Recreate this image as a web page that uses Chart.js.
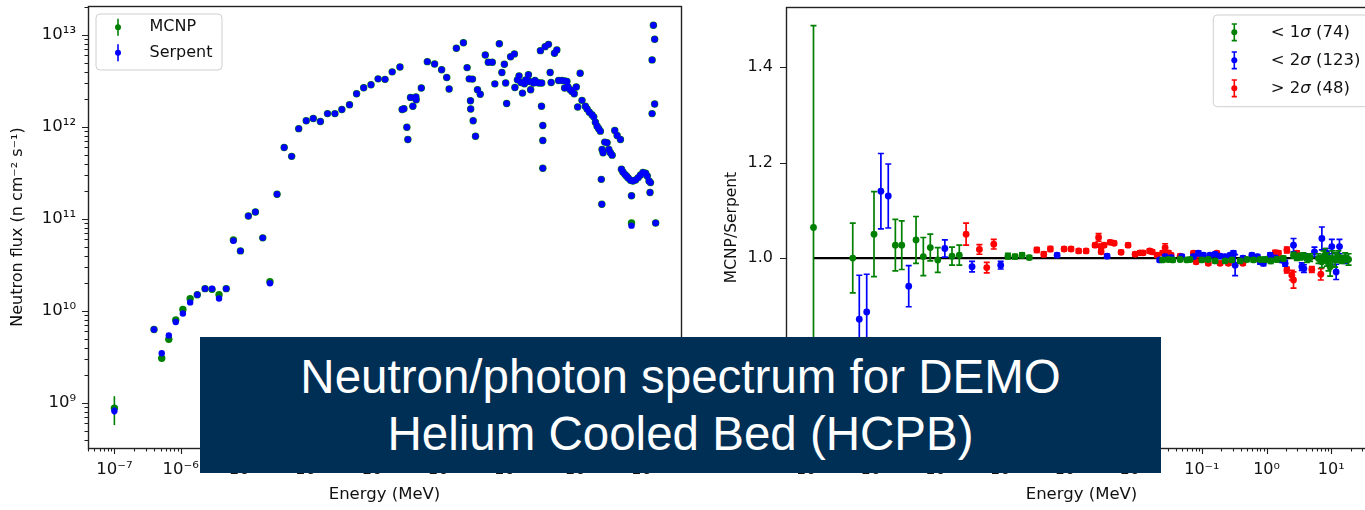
<!DOCTYPE html>
<html>
<head>
<meta charset="utf-8">
<title>Neutron spectrum DEMO HCPB</title>
<script src="https://cdn.jsdelivr.net/npm/chart.js@4.4.1/dist/chart.umd.min.js"></script>
<style>
  html, body { margin:0; padding:0; background:#fff; }
  body { width:1365px; height:510px; overflow:hidden; position:relative; }
  #leftChart { position:absolute; left:0; top:0; width:690px; height:510px; }
  #rightChart { position:absolute; left:690px; top:0; width:700px; height:510px; }
  #banner { position:absolute; left:200px; top:337px; width:961px; height:136px; background:#002f56; color:#fff;
    font-family:"Liberation Sans", Arial, sans-serif; font-size:47.5px; line-height:57px; text-align:center;
    padding-top:11px; box-sizing:border-box; }
</style>
</head>
<body>
<canvas id="leftChart" width="690" height="510"></canvas>
<canvas id="rightChart" width="700" height="510"></canvas>
<div id="banner">Neutron/photon spectrum for DEMO<br>Helium Cooled Bed (HCPB)</div>
<script>
// ================= DATA : left panel, neutron flux =================
const energyMeV = [1.0e-7, 3.96e-7, 5.18e-7, 6.62e-7, 8.43e-7, 1.08e-6, 1.39e-6, 1.78e-6, 2.33e-6, 2.97e-6,
  3.79e-6, 4.86e-6, 6.24e-6, 7.97e-6, 1.05e-5, 1.34e-5, 1.73e-5, 2.22e-5, 2.84e-5, 3.64e-5,
  4.72e-5, 6.03e-5, 7.83e-5, 1.0e-4, 1.28e-4, 1.64e-4, 2.12e-4, 2.7e-4, 3.52e-4, 4.5e-4,
  5.76e-4, 7.43e-4, 9.49e-4, 1.21e-3, 1.55e-3, 2.03e-3, 2.19e-3, 2.33e-3, 2.58e-3, 2.67e-3,
  2.93e-3, 3.18e-3, 3.53e-3, 3.56e-3, 4.26e-3, 5.25e-3, 6.76e-3, 8.63e-3, 1.03e-2, 1.12e-2,
  1.44e-2, 1.84e-2, 2.09e-2, 2.25e-2, 2.35e-2, 2.37e-2, 2.52e-2, 2.58e-2, 2.8e-2, 3.0e-2,
  3.3e-2, 3.93e-2, 4.36e-2, 5.01e-2, 5.48e-2, 6.4e-2, 7.0e-2, 7.62e-2, 7.98e-2, 8.26e-2,
  9.48e-2, 0.108, 0.110, 0.12, 0.127, 0.136, 0.143, 0.153, 0.16, 0.176,
  0.182, 0.19, 0.209, 0.221, 0.235, 0.255, 0.267, 0.277, 0.279, 0.29,
  0.29, 0.29, 0.314, 0.353, 0.374, 0.387, 0.435, 0.472, 0.501, 0.562,
  0.618, 0.618, 0.67, 0.694, 0.752, 0.798, 0.863, 0.927, 0.973, 1.06,
  1.13, 1.27, 1.35, 1.46, 1.6, 1.7, 1.8, 1.91, 2.02, 2.14,
  2.21, 2.25, 2.27, 2.35, 2.49, 2.7, 2.87, 3.03, 3.22, 3.53,
  3.83, 4.3, 4.45, 4.68, 5.01, 5.3, 5.62, 6.1, 6.31, 6.31,
  6.62, 7.26, 7.97, 8.63, 9.4, 10.3, 10.9, 11.6, 12.0, 12.2,
  12.9, 12.9, 13.5, 14.1, 14.1, 14.6];
const mcnpFlux = [8.8e8, 6.3e9, 3.06e9, 4.92e9, 8.0e9, 1.04e10, 1.36e10, 1.5e10, 1.75e10, 1.72e10,
  1.5e10, 1.75e10, 5.93e10, 4.5e10, 1.08e11, 1.19e11, 6.24e10, 2.08e10, 1.86e11, 6.0e11,
  4.8e11, 9.6e11, 1.17e12, 1.24e12, 1.15e12, 1.4e12, 1.4e12, 1.55e12, 1.75e12, 2.3e12,
  2.67e12, 2.88e12, 3.34e12, 3.3e12, 3.98e12, 4.5e12, 1.55e12, 1.58e12, 9.95e11, 7.33e11,
  2.1e12, 1.68e12, 2.12e12, 1.98e12, 2.66e12, 5.14e12, 4.85e12, 4.19e12, 3.45e12, 2.59e12,
  7.18e12, 8.26e12, 4.43e12, 3.34e12, 1.93e12, 1.57e12, 3.32e12, 1.17e12, 7.94e11, 2.54e12,
  2.27e12, 6.08e12, 5.07e12, 5.07e12, 2.95e12, 8.05e12, 3.91e12, 4.82e12, 3.01e12, 1.8e12,
  5.82e12, 6.24e12, 2.69e12, 3.26e12, 3.6e12, 3.05e12, 2.34e12, 2.95e12, 3.26e12, 3.7e12,
  3.13e12, 2.54e12, 3.01e12, 3.21e12, 3.05e12, 3.01e12, 6.77e12, 1.68e12, 3.01e12, 1.04e12,
  7.14e11, 3.56e11, 7.48e12, 7.93e12, 3.91e12, 3.05e12, 6.34e12, 6.88e12, 3.21e12, 3.21e12,
  3.18e12, 2.66e12, 3.13e12, 2.72e12, 2.54e12, 2.44e12, 2.3e12, 2.72e12, 1.65e12, 3.85e12,
  1.95e12, 1.68e12, 1.57e12, 1.45e12, 1.36e12, 1.29e12, 1.13e12, 1.02e12, 9.57e11, 9.02e11,
  2.7e11, 1.45e11, 5.71e11, 5.26e11, 6.86e11, 6.75e11, 5.71e11, 5.26e11, 4.95e11, 9.17e11,
  8.09e11, 7.33e11, 3.48e11, 3.25e11, 3.06e11, 2.94e11, 2.79e11, 2.64e11, 1.79e11, 9.06e10,
  2.59e11, 2.66e11, 2.82e11, 3.01e11, 3.2e11, 3.14e11, 2.94e11, 2.59e11, 1.94e11, 2.49e11,
  5.37e12, 1.4e12, 1.28e13, 8.99e12, 1.78e12, 9.06e10];
const serpentFlux = [8.2e8, 6.3e9, 3.47e9, 5.43e9, 7.6e9, 9.4e9, 1.24e10, 1.5e10, 1.75e10, 1.75e10,
  1.37e10, 1.75e10, 5.8e10, 4.5e10, 1.08e11, 1.19e11, 6.24e10, 2.0e10, 1.86e11, 6.0e11,
  4.8e11, 9.6e11, 1.17e12, 1.24e12, 1.15e12, 1.4e12, 1.4e12, 1.55e12, 1.75e12, 2.3e12,
  2.67e12, 2.88e12, 3.34e12, 3.3e12, 3.98e12, 4.5e12, 1.55e12, 1.58e12, 9.95e11, 7.33e11,
  2.1e12, 1.68e12, 2.12e12, 1.98e12, 2.66e12, 5.14e12, 4.85e12, 4.19e12, 3.45e12, 2.59e12,
  7.18e12, 8.26e12, 4.43e12, 3.34e12, 1.93e12, 1.57e12, 3.32e12, 1.17e12, 7.94e11, 2.54e12,
  2.27e12, 6.08e12, 5.07e12, 5.07e12, 2.95e12, 8.05e12, 3.91e12, 4.82e12, 3.01e12, 1.8e12,
  5.82e12, 6.24e12, 2.69e12, 3.26e12, 3.6e12, 3.05e12, 2.34e12, 2.95e12, 3.26e12, 3.7e12,
  3.13e12, 2.54e12, 3.01e12, 3.21e12, 3.05e12, 3.01e12, 6.77e12, 1.68e12, 3.01e12, 1.04e12,
  7.14e11, 3.56e11, 7.48e12, 7.93e12, 3.91e12, 3.05e12, 6.34e12, 6.88e12, 3.21e12, 3.21e12,
  3.18e12, 2.66e12, 3.13e12, 2.72e12, 2.54e12, 2.44e12, 2.3e12, 2.72e12, 1.65e12, 3.85e12,
  1.95e12, 1.68e12, 1.57e12, 1.45e12, 1.36e12, 1.29e12, 1.13e12, 1.02e12, 9.57e11, 9.02e11,
  2.7e11, 1.45e11, 5.71e11, 5.26e11, 6.86e11, 6.75e11, 5.71e11, 5.26e11, 4.95e11, 9.17e11,
  8.09e11, 7.33e11, 3.48e11, 3.25e11, 3.06e11, 2.94e11, 2.79e11, 2.64e11, 1.79e11, 8.47e10,
  2.59e11, 2.66e11, 2.82e11, 3.01e11, 3.2e11, 3.14e11, 2.94e11, 2.59e11, 1.94e11, 2.49e11,
  5.37e12, 1.4e12, 1.28e13, 8.99e12, 1.78e12, 9.06e10];
// visible 1-sigma uncertainties (index into the arrays above, value in flux units)
const mcnpSigmaIndex = [0];
const mcnpSigmaValue = [3.05e8];
const serpentSigmaIndex = [0];
const serpentSigmaValue = [0.8e8];

// ================= DATA : right panel, MCNP/Serpent ratio =================
const within1E = [1.0e-7, 4.04e-7, 8.61e-7, 1.84e-6, 2.31e-6, 3.84e-6, 4.98e-6, 6.38e-6, 8.32e-6, 1.38e-5,
  1.79e-5, 1.01e-4, 1.30e-4, 1.67e-4, 2.16e-4, 2.48e-2, 3.05e-2, 3.56e-2, 4.62e-2, 5.86e-2,
  6.59e-2, 0.100, 0.126, 0.161, 0.229, 0.291, 0.391, 0.497, 0.628, 0.796,
  0.950, 1.16, 1.44, 1.82, 2.61, 2.94, 3.30, 3.72, 4.20, 4.72,
  6.34, 7.16, 7.57, 8.05, 8.55, 9.06, 9.62, 10.4, 11.5, 12.9,
  14.6, 16.4, 18.5];
const within1Ratio = [1.064, 1.000, 1.050, 1.027, 1.027, 1.038, 1.003, 1.022, 0.996, 1.004,
  1.006, 1.004, 1.003, 1.006, 1.001, 0.996, 0.997, 0.996, 0.997, 0.996,
  0.997, 0.996, 0.997, 0.994, 0.994, 0.996, 0.994, 0.997, 0.996, 0.997,
  0.997, 0.994, 0.997, 0.999, 1.006, 1.001, 1.003, 1.004, 0.999, 1.001,
  0.999, 0.992, 1.003, 1.006, 0.997, 0.989, 0.982, 0.999, 0.996, 1.003,
  0.997, 1.001, 0.997];
const within1Err = [0.423, 0.073, 0.089, 0.054, 0.051, 0.049, 0.040, 0.028, 0.026, 0.019,
  0.021, 0.006, 0.005, 0.005, 0.004, 0.004, 0.004, 0.004, 0.004, 0.004,
  0.004, 0.004, 0.004, 0.004, 0.004, 0.004, 0.004, 0.004, 0.004, 0.004,
  0.005, 0.005, 0.005, 0.005, 0.006, 0.006, 0.007, 0.007, 0.008, 0.008,
  0.010, 0.012, 0.012, 0.014, 0.014, 0.016, 0.020, 0.016, 0.015, 0.012,
  0.008, 0.010, 0.012];

const within2E = [5.10e-7, 6.64e-7, 1.10e-6, 1.43e-6, 2.96e-6, 1.07e-5, 2.82e-5, 7.81e-5, 5.81e-4, 3.44e-3,
  2.23e-2, 2.71e-2, 3.36e-2, 4.91e-2, 7.41e-2, 8.85e-2, 0.106, 0.134, 0.161, 0.192,
  0.229, 0.274, 0.308, 0.327, 0.431, 0.593, 0.723, 0.796, 0.895, 1.14,
  1.36, 1.72, 1.94, 2.61, 3.51, 3.78, 4.20, 5.50, 6.90, 7.16,
  8.55, 10.2, 11.9, 13.4, 15.5, 16.4];
const within2Ratio = [0.872, 0.887, 1.140, 1.130, 0.941, 1.020, 0.982, 0.985, 1.006, 1.004,
  0.996, 1.003, 1.001, 1.003, 1.003, 1.010, 1.006, 1.006, 1.008, 1.004,
  1.003, 1.006, 1.010, 0.985, 1.000, 1.006, 1.003, 0.992, 0.989, 1.006,
  1.000, 0.996, 0.989, 1.027, 0.982, 0.978, 1.003, 1.013, 0.997, 1.041,
  1.010, 1.024, 0.971, 1.024, 0.996, 0.997];
const within2Err = [0.092, 0.079, 0.079, 0.067, 0.043, 0.018, 0.011, 0.008, 0.004, 0.004,
  0.004, 0.004, 0.004, 0.004, 0.004, 0.005, 0.004, 0.004, 0.004, 0.004,
  0.004, 0.004, 0.005, 0.022, 0.004, 0.004, 0.004, 0.005, 0.005, 0.005,
  0.005, 0.005, 0.006, 0.014, 0.008, 0.008, 0.006, 0.010, 0.008, 0.024,
  0.010, 0.015, 0.016, 0.015, 0.006, 0.008];

const beyond2E = [2.28e-5, 3.66e-5, 4.75e-5, 6.10e-5, 2.82e-4, 3.61e-4, 4.57e-4, 7.45e-4, 9.55e-4, 1.25e-3,
  1.63e-3, 2.24e-3, 2.54e-3, 2.78e-3, 2.78e-3, 3.09e-3, 3.83e-3, 4.42e-3, 5.66e-3, 7.26e-3,
  9.31e-3, 1.11e-2, 1.24e-2, 1.56e-2, 1.71e-2, 2.04e-2, 2.48e-2, 2.71e-2, 3.05e-2, 3.36e-2,
  4.62e-2, 7.41e-2, 8.17e-2, 8.85e-2, 0.126, 0.171, 0.192, 0.258, 0.431, 0.723,
  1.36, 1.53, 2.06, 2.06, 2.46, 2.61, 2.94, 5.01, 6.90];
const beyond2Ratio = [1.050, 1.018, 0.980, 1.029, 1.017, 1.008, 1.019, 1.019, 1.019, 1.015,
  1.015, 1.027, 1.043, 1.024, 1.013, 1.027, 1.033, 1.031, 1.012, 1.027,
  1.008, 1.011, 1.011, 1.015, 1.013, 1.006, 1.011, 1.022, 1.011, 1.006,
  1.004, 1.010, 0.992, 1.006, 0.989, 1.010, 0.989, 0.989, 0.989, 0.999,
  1.011, 1.010, 1.017, 0.975, 0.964, 0.954, 1.010, 0.976, 0.966];
const beyond2Err = [0.023, 0.010, 0.011, 0.010, 0.005, 0.005, 0.005, 0.004, 0.004, 0.004,
  0.004, 0.004, 0.008, 0.005, 0.004, 0.004, 0.004, 0.004, 0.004, 0.004,
  0.004, 0.004, 0.004, 0.004, 0.004, 0.004, 0.004, 0.008, 0.004, 0.004,
  0.004, 0.004, 0.004, 0.004, 0.004, 0.004, 0.004, 0.004, 0.004, 0.004,
  0.005, 0.005, 0.006, 0.006, 0.010, 0.017, 0.005, 0.006, 0.012];

const refLineE = [1.0e-7, 20.0];
const refLineRatio = [1.0, 1.0];

// ================= LABELS / TICKS =================
const leftLegendLabels = ['MCNP', 'Serpent'];
const rightLegendLabels = ['< 1σ (74)', '< 2σ (123)', '> 2σ (48)'];
const xTickExponents = [-7, -6, -5, -4, -3, -2, -1, 0, 1];
const xTickLabels = ['10⁻⁷', '10⁻⁶', '10⁻⁵', '10⁻⁴', '10⁻³', '10⁻²', '10⁻¹', '10⁰', '10¹'];
const yTickExponents = [9, 10, 11, 12, 13];
const yTickLabels = ['10⁹', '10¹⁰', '10¹¹', '10¹²', '10¹³'];
const ratioTicks = [0.8, 1.0, 1.2, 1.4];
const ratioTickLabels = ['0.8', '1.0', '1.2', '1.4'];

// ================= helpers =================
const FONT = "'DejaVu Sans', sans-serif";
Chart.defaults.font.family = FONT;
Chart.defaults.color = '#111';

function logTicks(min, max, exps, labels) {
  const out = [];
  const e0 = Math.floor(Math.log10(min)), e1 = Math.ceil(Math.log10(max));
  for (let e = e0; e <= e1; e++) {
    for (let m = 1; m <= 9; m++) {
      const v = m * Math.pow(10, e);
      if (v < min || v > max) continue;
      const k = exps.indexOf(e);
      out.push({ value: v, major: m === 1, lab: (m === 1 && k >= 0) ? labels[k] : '' });
    }
  }
  return out;
}
function sparse(n, idx, val) {
  return Array.from({ length: n }, (_, i) => { const k = idx.indexOf(i); return k >= 0 ? val[k] : 0; });
}
function pts(xs, ys) { return xs.map((x, i) => ({ x: x, y: ys[i] })); }
function fixX(h) { return s => { s.height = h; s.paddingLeft = 0; s.paddingRight = 0; }; }
function fixY(w) { return s => { s.width = w; s.paddingTop = 0; s.paddingBottom = 0; }; }

const errorBarPlugin = {
  id: 'errorBars',
  beforeDatasetDraw(chart, args) {
    const ds = chart.data.datasets[args.index];
    if (!ds.errorValues) return;
    const { ctx, chartArea: a } = chart;
    const xs = chart.scales.x, ys = chart.scales.y;
    ctx.save();
    ctx.beginPath(); ctx.rect(a.left, a.top, a.right - a.left, a.bottom - a.top); ctx.clip();
    ctx.strokeStyle = ds.backgroundColor;
    ctx.lineWidth = ds.errorLineWidth || 1.5;
    const cap = ds.errorCap || 0;
    ds.data.forEach((p, i) => {
      const e = ds.errorValues[i];
      if (!e) return;
      const px = xs.getPixelForValue(p.x);
      const hi = ys.getPixelForValue(p.y + e);
      const lo = (p.y - e) > 0 ? ys.getPixelForValue(p.y - e) : a.bottom + 20;
      ctx.beginPath();
      ctx.moveTo(px, hi); ctx.lineTo(px, lo);
      if (cap) {
        ctx.moveTo(px - cap, hi); ctx.lineTo(px + cap, hi);
        ctx.moveTo(px - cap, lo); ctx.lineTo(px + cap, lo);
      }
      ctx.stroke();
    });
    ctx.restore();
  }
};

function richText(ctx, text, x, y, size) {
  const parts = text.split('σ');
  let cx = x;
  parts.forEach((s, i) => {
    ctx.font = size + 'px ' + FONT;
    ctx.fillText(s, cx, y);
    cx += ctx.measureText(s).width;
    if (i < parts.length - 1) {
      ctx.font = 'italic ' + size + 'px ' + FONT;
      ctx.fillText('σ', cx, y);
      cx += ctx.measureText('σ').width;
    }
  });
}

const mplAxesPlugin = {
  id: 'mplAxes',
  afterDraw(chart) {
    const { ctx, chartArea: a } = chart;
    const xs = chart.scales.x, ys = chart.scales.y;
    ctx.save();
    ctx.strokeStyle = '#1e1e1e';
    ctx.lineWidth = 1.1;
    ctx.beginPath();
    xs.ticks.forEach(t => {
      const p = Math.round(xs.getPixelForValue(t.value)) + 0.5;
      const L = t.major ? 6 : 3.5;
      ctx.moveTo(p, a.bottom); ctx.lineTo(p, a.bottom + L);
    });
    ys.ticks.forEach(t => {
      const p = Math.round(ys.getPixelForValue(t.value)) + 0.5;
      const L = t.major ? 6 : 3.5;
      ctx.moveTo(a.left, p); ctx.lineTo(a.left - L, p);
    });
    ctx.stroke();
    ctx.lineWidth = 1.4;
    ctx.strokeStyle = '#222';
    ctx.strokeRect(Math.round(a.left) + 0.5, Math.round(a.top) + 0.5, Math.round(a.right - a.left), Math.round(a.bottom - a.top));
    ctx.restore();

    // legend (matplotlib style)
    const o = chart.options.plugins.mplLegend;
    if (!o) return;
    const items = chart.data.datasets.filter(d => d.legendRank !== undefined)
      .sort((p, q) => p.legendRank - q.legendRank);
    ctx.save();
    const r = 4, x0 = o.x, y0 = o.y, w = o.w, h = o.h;
    ctx.beginPath();
    ctx.moveTo(x0 + r, y0); ctx.lineTo(x0 + w - r, y0); ctx.quadraticCurveTo(x0 + w, y0, x0 + w, y0 + r);
    ctx.lineTo(x0 + w, y0 + h - r); ctx.quadraticCurveTo(x0 + w, y0 + h, x0 + w - r, y0 + h);
    ctx.lineTo(x0 + r, y0 + h); ctx.quadraticCurveTo(x0, y0 + h, x0, y0 + h - r);
    ctx.lineTo(x0, y0 + r); ctx.quadraticCurveTo(x0, y0, x0 + r, y0);
    ctx.closePath();
    ctx.fillStyle = 'rgba(255,255,255,0.8)'; ctx.fill();
    ctx.strokeStyle = '#cfcfcf'; ctx.lineWidth = 1; ctx.stroke();
    items.forEach((d, i) => {
      const cy = y0 + o.firstRow + i * o.rowGap;
      const mx = x0 + o.markerX;
      ctx.strokeStyle = d.backgroundColor; ctx.lineWidth = 1.6;
      ctx.beginPath();
      ctx.moveTo(mx, cy - o.barHalf); ctx.lineTo(mx, cy + o.barHalf);
      if (o.cap) {
        ctx.moveTo(mx - o.cap, cy - o.barHalf); ctx.lineTo(mx + o.cap, cy - o.barHalf);
        ctx.moveTo(mx - o.cap, cy + o.barHalf); ctx.lineTo(mx + o.cap, cy + o.barHalf);
      }
      ctx.stroke();
      ctx.fillStyle = d.backgroundColor;
      ctx.beginPath(); ctx.arc(mx, cy, o.dot, 0, Math.PI * 2); ctx.fill();
      ctx.fillStyle = '#111'; ctx.textAlign = 'left'; ctx.textBaseline = 'middle';
      richText(ctx, d.label, x0 + o.textX, cy, o.fontSize);
    });
    ctx.restore();
  }
};

// ================= LEFT CHART =================
const L_XMIN = 4.0e-8, L_XMAX = 35.2, L_YMIN = 3.24e8, L_YMAX = 2.07e13;
new Chart(document.getElementById('leftChart'), {
  type: 'scatter',
  data: {
    datasets: [
      { label: leftLegendLabels[0], data: pts(energyMeV, mcnpFlux), backgroundColor: '#008000', borderColor: '#008000',
        pointRadius: 3.7, pointHoverRadius: 3.7, pointBorderWidth: 0, order: 2, legendRank: 0,
        errorValues: sparse(energyMeV.length, mcnpSigmaIndex, mcnpSigmaValue), errorLineWidth: 1.6 },
      { label: leftLegendLabels[1], data: pts(energyMeV, serpentFlux), backgroundColor: '#0000ff', borderColor: '#0000ff',
        pointRadius: 3.2, pointHoverRadius: 3.2, pointBorderWidth: 0, order: 1, legendRank: 1,
        errorValues: sparse(energyMeV.length, serpentSigmaIndex, serpentSigmaValue), errorLineWidth: 1.6 }
    ]
  },
  options: {
    responsive: false, animation: false, events: [],
    layout: { padding: { top: 6, right: 9, left: 0, bottom: 0 } },
    plugins: {
      legend: { display: false }, tooltip: { enabled: false },
      mplLegend: { x: 96, y: 14, w: 126, h: 56, markerX: 22, textX: 53.5, firstRow: 13.3, rowGap: 25.4,
        barHalf: 8.5, cap: 0, dot: 3, fontSize: 16 }
    },
    scales: {
      x: {
        type: 'logarithmic', min: L_XMIN, max: L_XMAX, bounds: 'data',
        afterBuildTicks: s => { s.ticks = logTicks(L_XMIN, L_XMAX, xTickExponents, xTickLabels); },
        afterFit: fixX(62),
        ticks: { autoSkip: false, maxRotation: 0, minRotation: 0, padding: 6, font: { size: 16.5 },
          callback: (v, i, t) => t[i].lab },
        grid: { drawOnChartArea: false, drawTicks: true, tickLength: 6, color: 'rgba(0,0,0,0)' },
        border: { display: false },
        title: { display: true, text: 'Energy (MeV)', font: { size: 16.5 }, padding: { top: 0, bottom: 5 } }
      },
      y: {
        type: 'logarithmic', min: L_YMIN, max: L_YMAX, bounds: 'data',
        afterBuildTicks: s => { s.ticks = logTicks(L_YMIN, L_YMAX, yTickExponents, yTickLabels); },
        afterFit: fixY(88),
        ticks: { autoSkip: false, padding: 6, font: { size: 16.5 }, callback: (v, i, t) => t[i].lab },
        grid: { drawOnChartArea: false, drawTicks: true, tickLength: 6, color: 'rgba(0,0,0,0)' },
        border: { display: false },
        title: { display: true, text: 'Neutron flux (n cm⁻² s⁻¹)', font: { size: 16 }, padding: { top: 8.4, bottom: 0 } }
      }
    }
  },
  plugins: [errorBarPlugin, mplAxesPlugin]
});

// ================= RIGHT CHART =================
const R_XMIN = 3.76e-8, R_XMAX = 50.9, R_YMIN = 0.602, R_YMAX = 1.526;
new Chart(document.getElementById('rightChart'), {
  type: 'scatter',
  data: {
    datasets: [
      { label: 'reference', data: pts(refLineE, refLineRatio), showLine: true, borderColor: '#000', backgroundColor: '#000',
        borderWidth: 2.2, pointRadius: 0, order: 10 },
      { label: rightLegendLabels[2], data: pts(beyond2E, beyond2Ratio), backgroundColor: '#ff0000', borderColor: '#ff0000',
        pointRadius: 3.4, pointHoverRadius: 3.4, pointBorderWidth: 0, order: 3, legendRank: 2,
        errorValues: beyond2Err, errorCap: 3, errorLineWidth: 1.7 },
      { label: rightLegendLabels[1], data: pts(within2E, within2Ratio), backgroundColor: '#0000ff', borderColor: '#0000ff',
        pointRadius: 3.4, pointHoverRadius: 3.4, pointBorderWidth: 0, order: 2, legendRank: 1,
        errorValues: within2Err, errorCap: 3, errorLineWidth: 1.7 },
      { label: rightLegendLabels[0], data: pts(within1E, within1Ratio), backgroundColor: '#008000', borderColor: '#008000',
        pointRadius: 3.4, pointHoverRadius: 3.4, pointBorderWidth: 0, order: 1, legendRank: 0,
        errorValues: within1Err, errorCap: 3, errorLineWidth: 1.7 }
    ]
  },
  options: {
    responsive: false, animation: false, events: [],
    layout: { padding: { top: 7, right: 13, left: 0, bottom: 0 } },
    plugins: {
      legend: { display: false }, tooltip: { enabled: false },
      mplLegend: { x: 523.3, y: 15, w: 190, h: 91.7, markerX: 21, textX: 57.4, firstRow: 17.3, rowGap: 28,
        barHalf: 8.3, cap: 2.6, dot: 3, fontSize: 16.5 }
    },
    scales: {
      x: {
        type: 'logarithmic', min: R_XMIN, max: R_XMAX, bounds: 'data',
        afterBuildTicks: s => { s.ticks = logTicks(R_XMIN, R_XMAX, xTickExponents, xTickLabels); },
        afterFit: fixX(62),
        ticks: { autoSkip: false, maxRotation: 0, minRotation: 0, padding: 6, font: { size: 16 },
          callback: (v, i, t) => t[i].lab },
        grid: { drawOnChartArea: false, drawTicks: true, tickLength: 6, color: 'rgba(0,0,0,0)' },
        border: { display: false },
        title: { display: true, text: 'Energy (MeV)', font: { size: 16.5 }, padding: { top: 0, bottom: 5 } }
      },
      y: {
        type: 'linear', min: R_YMIN, max: R_YMAX, bounds: 'data',
        afterBuildTicks: s => { s.ticks = ratioTicks.map((v, i) => ({ value: v, major: true, lab: ratioTickLabels[i] })); },
        afterFit: fixY(96),
        ticks: { autoSkip: false, padding: 7, font: { size: 16 }, callback: (v, i, t) => t[i].lab },
        grid: { drawOnChartArea: false, drawTicks: true, tickLength: 6, color: 'rgba(0,0,0,0)' },
        border: { display: false },
        title: { display: true, text: 'MCNP/Serpent', font: { size: 15.5 }, padding: { top: 32.7, bottom: 0 } }
      }
    }
  },
  plugins: [errorBarPlugin, mplAxesPlugin]
});
</script>
</body>
</html>
